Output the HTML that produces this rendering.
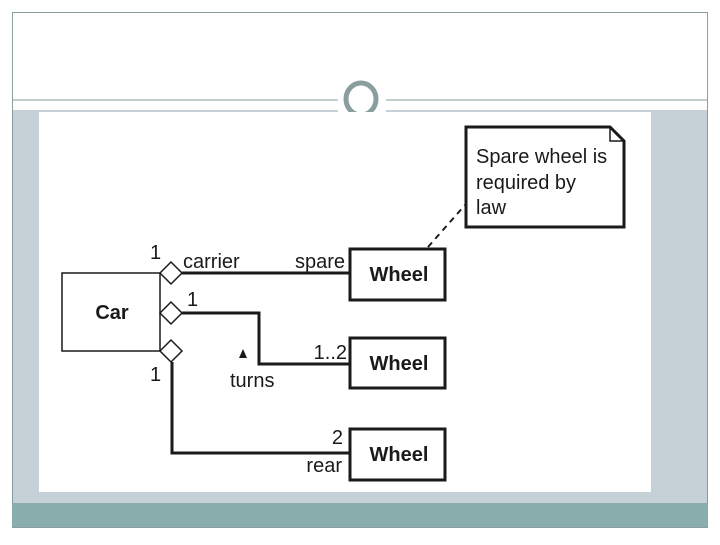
<!DOCTYPE html>
<html><head><style>
body{margin:0;width:720px;height:540px;background:#fff;overflow:hidden;font-family:"Liberation Sans",sans-serif}
</style></head><body>
<svg width="720" height="540" xmlns="http://www.w3.org/2000/svg" font-family="Liberation Sans, sans-serif">
<rect x="0" y="0" width="720" height="540" fill="#fff"/>
<rect x="12.5" y="12.5" width="695" height="515" fill="#fff" stroke="#8a9e9e" stroke-width="1"/>
<rect x="13" y="110" width="694" height="393" fill="#c5d1d7"/>
<rect x="39" y="112" width="612" height="380" fill="#fff"/>
<rect x="12" y="503" width="696" height="24" fill="#8aadad"/>
<line x1="12" y1="100" x2="708" y2="100" stroke="#8a9e9e" stroke-width="1"/>
<rect x="338" y="90" width="48" height="22" fill="#fff"/>
<ellipse cx="361" cy="99" rx="15" ry="16" fill="#fff" stroke="#8a9e9e" stroke-width="5"/>
<rect x="338" y="112" width="48" height="6" fill="#fff"/>
<g stroke="#1a1a1a" fill="none">
<rect x="62" y="273" width="98" height="78" stroke-width="1.5"/>
<rect x="350" y="249" width="95" height="51" stroke-width="3"/>
<rect x="350" y="338" width="95" height="50" stroke-width="3"/>
<rect x="350" y="429" width="95" height="51" stroke-width="3"/>
<path d="M466 127 H610 L624 141 V227 H466 Z" stroke-width="3" fill="#fff"/>
<path d="M610 127 V141 H624" stroke-width="1.5"/>
<line x1="428" y1="247" x2="465" y2="205" stroke-width="2" stroke-dasharray="6,5"/>
<path d="M182 273 H350" stroke-width="3"/>
<path d="M182 313 H259 V364 H350" stroke-width="3"/>
<path d="M172 362 V453 H350" stroke-width="3"/>
<path d="M160 273 L171 262 L182 273 L171 284 Z" stroke-width="1.5" fill="#fff"/>
<path d="M160 313 L171 302 L182 313 L171 324 Z" stroke-width="1.5" fill="#fff"/>
<path d="M160 351 L171 340 L182 351 L171 362 Z" stroke-width="1.5" fill="#fff"/>
</g>
<path d="M243 349 L239 358 L247 358 Z" fill="#1a1a1a"/>
<g fill="#1a1a1a" font-size="20">
<text x="150" y="259">1</text>
<text x="183" y="268">carrier</text>
<text x="345" y="268" text-anchor="end">spare</text>
<text x="187" y="306">1</text>
<text x="150" y="381">1</text>
<text x="347" y="359" text-anchor="end">1..2</text>
<text x="230" y="387">turns</text>
<text x="343" y="444" text-anchor="end">2</text>
<text x="342" y="472" text-anchor="end">rear</text>
<text x="476" y="163">Spare wheel is</text>
<text x="476" y="189">required by</text>
<text x="476" y="214">law</text>
</g>
<g fill="#1a1a1a" font-size="20" font-weight="bold" text-anchor="middle">
<text x="112" y="319">Car</text>
<text x="399" y="281">Wheel</text>
<text x="399" y="370">Wheel</text>
<text x="399" y="461">Wheel</text>
</g>
</svg>
</body></html>
